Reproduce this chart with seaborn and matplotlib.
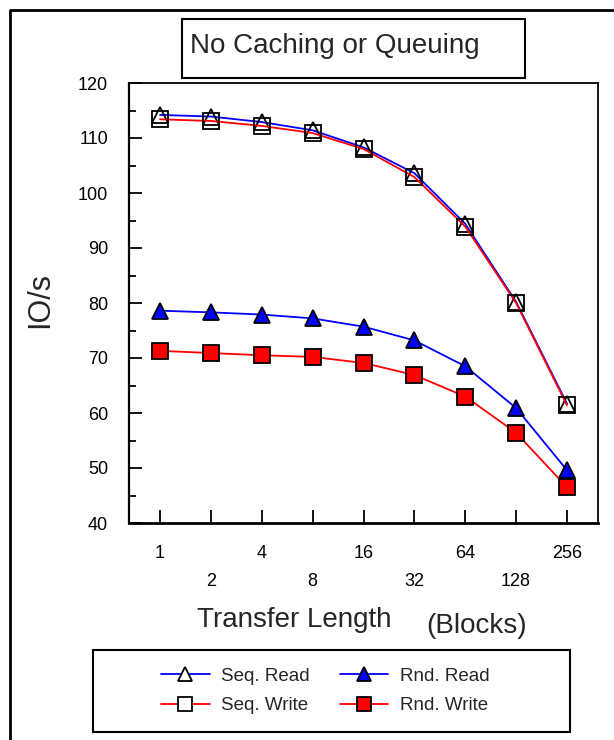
import numpy as np
import pandas as pd
import matplotlib
matplotlib.use("Agg")
import matplotlib.pyplot as plt
import seaborn as sns
from matplotlib.lines import Line2D
from matplotlib.patches import Rectangle
from matplotlib.ticker import MultipleLocator

# transfer length in blocks
sizes = [1, 2, 4, 8, 16, 32, 64, 128, 256]
size_labels = ["1", "2", "4", "8", "16", "32", "64", "128", "256"]

# IO/s
seq_read = [114.2, 113.9, 112.9, 111.4, 108.3, 103.6, 94.4, 80.2, 61.7]
seq_write = [113.4, 113.1, 112.2, 110.9, 108.0, 102.9, 93.9, 80.0, 61.4]
rnd_read = [78.6, 78.3, 77.9, 77.2, 75.7, 73.2, 68.5, 60.9, 49.6]
rnd_write = [71.3, 70.9, 70.5, 70.2, 69.1, 66.9, 63.0, 56.4, 46.5]

sns.set_style("white")
plt.rcParams["font.family"] = ["Liberation Sans", "DejaVu Sans"]

W, H = 614, 740
fig = plt.figure(figsize=(W / 100, H / 100), dpi=100)

def fx(px):
    return px / W

def fy(py):
    return 1 - py / H

ax = fig.add_axes([fx(129), fy(523), fx(598 - 129), (523 - 83) / H])

series = [
    ("Seq. Read", seq_read, "blue", "^", "none", 11),
    ("Seq. Write", seq_write, "red", "s", "none", 11),
    ("Rnd. Read", rnd_read, "blue", "^", "blue", 11),
    ("Rnd. Write", rnd_write, "red", "s", "red", 11),
]

handles = {}
for name, vals, col, mk, fc, ms in series:
    df = pd.DataFrame({"size": sizes, "ios": vals})
    sns.lineplot(data=df, x="size", y="ios", ax=ax, color=col, lw=1.3,
                 marker=mk, markersize=ms, markerfacecolor=fc,
                 markeredgecolor="black", markeredgewidth=1.3)
    handles[name] = Line2D([], [], color=col, lw=1.3, marker=mk, markersize=10,
                           markerfacecolor=fc if fc != "none" else "white",
                           markeredgecolor="black", markeredgewidth=1.3)

ax.set_xscale("log", base=2)
ax.set_xlim(2 ** -0.61, 2 ** 8.61)
ax.set_ylim(40, 120)
ax.set_xlabel("")
ax.set_ylabel("")

ax.set_xticks(sizes)
ax.set_xticklabels(size_labels)
ax.xaxis.set_minor_locator(matplotlib.ticker.NullLocator())
ax.yaxis.set_major_locator(MultipleLocator(10))
ax.yaxis.set_minor_locator(MultipleLocator(5))
ax.tick_params(axis="both", which="both", direction="in", colors="black",
               labelsize=13, width=1.3)
ax.tick_params(axis="both", which="major", length=9.5)
ax.tick_params(axis="y", which="minor", length=5, left=True)
ax.tick_params(axis="y", which="major", pad=15, left=True)
ax.tick_params(axis="x", which="major", bottom=True)
for i, t in enumerate(ax.xaxis.get_major_ticks()):
    t.set_pad(16 if i % 2 == 0 else 36)

for s in ax.spines.values():
    s.set_color("black")
    s.set_linewidth(1.3)
ax.spines["bottom"].set_linewidth(2)
ax.spines["left"].set_linewidth(1.6)

# axis titles
fig.text(fx(40), fy(300), "IO/s", rotation=90, ha="center", va="center", fontsize=22)
fig.text(fx(294), fy(620), "Transfer Length", ha="center", va="center", fontsize=20)
fig.text(fx(477), fy(626), "(Blocks)", ha="center", va="center", fontsize=20)

# title box
fig.patches.append(Rectangle((fx(182), fy(78)), fx(525 - 182), (78 - 19) / H,
                             transform=fig.transFigure, fill=False, lw=1.5, ec="black"))
fig.text(fx(190), fy(53), "No Caching or Queuing", ha="left", va="baseline", fontsize=20)

# legend box
fig.patches.append(Rectangle((fx(93), fy(732)), fx(570 - 93), (732 - 650) / H,
                             transform=fig.transFigure, fill=False, lw=1.5, ec="black"))
order = ["Seq. Read", "Seq. Write", "Rnd. Read", "Rnd. Write"]
fig.legend([handles[k] for k in order], order, ncol=2, frameon=False,
           loc="center", bbox_to_anchor=(fx(325), fy(691)), fontsize=13.5,
           handlelength=2.6, columnspacing=1.6, handletextpad=0.6,
           labelspacing=0.65)

# outer frame (left and top edges)
fig.lines.append(Line2D([fx(10), fx(10), 1], [0, fy(10), fy(10)],
                        transform=fig.transFigure, color="black", lw=2))

fig.savefig("out.png", dpi=100)
